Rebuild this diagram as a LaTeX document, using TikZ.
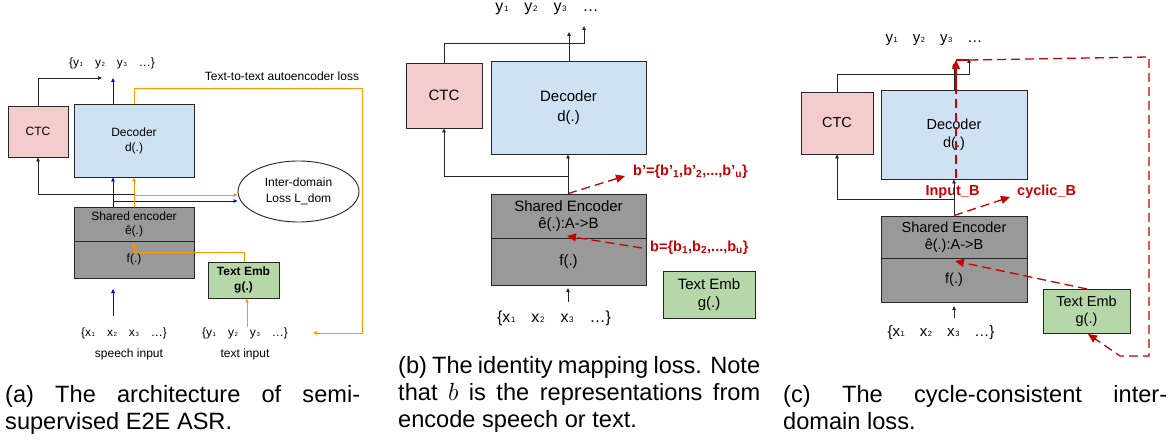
\documentclass[tikz,border=0pt]{standalone}
\usepackage{fontspec}
\usepackage{graphicx}
\setmainfont{Liberation Sans}
\usetikzlibrary{arrows.meta,shapes.geometric}
\definecolor{ctcfill}{HTML}{F4CCCC}
\definecolor{decfill}{HTML}{CFE2F3}
\definecolor{encfill}{HTML}{999999}
\definecolor{embfill}{HTML}{B6D7A8}
\definecolor{orng}{HTML}{FF9900}
\definecolor{blu}{HTML}{0000FF}
\definecolor{rd}{HTML}{CC0000}
\newcommand{\fs}[1]{\fontsize{#1}{#1}\selectfont}
\newcommand{\sbx}[1]{\textsubscript{#1}}
\newcommand{\tsb}[1]{\kern0.6pt\scalebox{0.5}{#1}}
\tikzset{
  box/.style={draw=black!85, line width=0.9pt, inner sep=0pt, align=center, rectangle},
  blk/.style={draw=black!85, line width=0.8pt, -{Triangle[length=4pt,width=3.5pt]}},
  bline/.style={draw=black!85, line width=0.8pt},
  bluarr/.style={draw=blu, line width=0.9pt, -{Triangle[length=4pt,width=3.5pt]}},
  orarr/.style={draw=orng, line width=0.9pt, -{Triangle[length=4pt,width=3.5pt]}},
  orline/.style={draw=orng, line width=0.9pt},
  rdash/.style={draw=rd, line width=1.3pt, dash pattern=on 9pt off 5pt, -{Triangle[length=9pt,width=8pt]}},
  rdline/.style={draw=rd, line width=1.3pt, dash pattern=on 9pt off 5pt},
  txt/.style={inner sep=0pt, align=center},
  captxt/.style={inner sep=0pt, anchor=base west, font=\fontsize{23.6}{27}\selectfont},
}
\begin{document}
\begin{tikzpicture}[x=1pt,y=-1pt]
\useasboundingbox[fill=white] (0,0) rectangle (1174,441);

% ================= panel (a) =================
\node[box, fill=ctcfill, minimum width=60, minimum height=51, font=\fs{12}] (actc) at (38,131.5) {CTC};
\node[box, fill=decfill, minimum width=120, minimum height=73, font=\fs{12}] (adec) at (134,140.5) {Decoder\\[3pt]d(.)};
\node[box, fill=encfill, minimum width=120, minimum height=34, font=\fs{12}] (aenc) at (134,224) {Shared encoder\\[2pt]ê(.)};
\node[box, fill=encfill, minimum width=120, minimum height=37, font=\fs{12}] (af) at (134,259.5) {f(.)};
\node[box, fill=embfill, minimum width=71, minimum height=36, font=\fs{12}\bfseries] (aemb) at (243.5,280) {Text Emb\\[3pt]g(.)};
\node[draw=black!85, line width=0.9pt, ellipse, minimum width=121, minimum height=61, inner sep=0pt, align=center, font=\fs{12}] (aell) at (298.5,191.5) {Inter-domain\\[4pt]Loss L\_dom};
\node[txt, font=\fs{12}] (ay) at (112,63) {\{y\tsb{1}\quad y\tsb{2}\quad y\tsb{3}\quad …\}};
\node[txt, font=\fs{12}] (aloss) at (282,76) {Text-to-text autoencoder loss};
\node[txt, font=\fs{12}] (ax) at (124,333) {\{x\tsb{1}\quad x\tsb{2}\quad x\tsb{3}\quad …\}};
\node[txt, font=\fs{12}] (asp) at (129,354) {speech input};
\node[txt, font=\fs{12}] (ayin) at (245,333) {\{y\tsb{1}\quad y\tsb{2}\quad y\tsb{3}\quad …\}};
\node[txt, font=\fs{12}] (atx) at (245,354) {text input};

\coordinate (actcout) at (102,78);
\coordinate (adecout) at (113,78);
\coordinate (aor1) at (134,88);
\coordinate (aor2) at (362,88);
\coordinate (aor3) at (362,333);
\coordinate (aor4) at (313,333);
\coordinate (ablk) at (134,194);
\coordinate (ablu) at (113,201);
\coordinate (aorg) at (134,195);
\coordinate (aemb1) at (244,252);
\coordinate (aembtip) at (134,243);
\coordinate (axs) at (113,316);
\coordinate (axe) at (113,289);

\draw[blk] (actc.north) |- (actcout);
\draw[bluarr] (adecout |- adec.north) -- (adecout);
\draw[orarr] (adec.north) -- (aor1) -- (aor2) -- (aor3) -- (aor4);
\draw[blk] (ablk) -| (actc.south);
\draw[bluarr] (ablu |- aenc.north) -- (ablu |- adec.south);
\draw[bluarr] (ablu) -- (ablu -| aell.west);
\draw[orarr] (aenc.north) -- (adec.south);
\draw[orarr] (aorg) -- (aorg -| aell.west);
\draw[orarr] (aemb1 |- aemb.north) -- (aemb1) -| (aembtip);
\draw[orarr] (ayin.north -| 247,0) -- (aemb.south -| 247,0);
\draw[bluarr] (axs) -- (axe);

% ================= panel (b) =================
\node[box, fill=ctcfill, minimum width=76, minimum height=65, font=\fs{15}] (bctc) at (444,95.5) {CTC};
\node[box, fill=decfill, minimum width=155, minimum height=93, font=\fs{15}] (bdec) at (568.5,107.5) {Decoder\\[5pt]d(.)};
\node[box, fill=encfill, minimum width=155, minimum height=44, font=\fs{15}] (benc) at (568.5,216) {Shared Encoder\\[2pt]ê(.):A->B};
\node[box, fill=encfill, minimum width=155, minimum height=47, font=\fs{15}] (bf) at (568.5,261.5) {f(.)};
\node[box, fill=embfill, minimum width=92, minimum height=47, font=\fs{15}] (bemb) at (709,294.5) {Text Emb\\[3pt]g(.)};
\node[txt, font=\fs{16}] (by) at (547,9) {y\tsb{1}\quad y\tsb{2}\quad y\tsb{3}\quad …};
\node[txt, font=\fs{16}] (bx) at (554,318) {\{x\tsb{1}\quad x\tsb{2}\quad x\tsb{3}\quad …\}};
\node[txt, anchor=west, text=rd, font=\fs{14.5}\bfseries] (bbp) at (633,172) {b’=\{b’\sbx{1},b’\sbx{2},...,b’\sbx{u}\}};
\node[txt, anchor=west, text=rd, font=\fs{14.5}\bfseries] (bb) at (650,248) {b=\{b\sbx{1},b\sbx{2},...,b\sbx{u}\}};

\coordinate (bctcout1) at (444,43);
\coordinate (bctcout) at (584,26);
\coordinate (bdecout) at (569,32);
\coordinate (bjoin) at (568,176);
\coordinate (bred1) at (625,176);
\coordinate (bred2s) at (642,248);
\coordinate (bred2e) at (567,236);
\coordinate (bxs) at (568,302);
\coordinate (bxe) at (568,288);

\draw[blk] (bctc.north) -- (bctcout1) -| (bctcout);
\draw[blk] (bdecout |- bdec.north) -- (bdecout);
\draw[blk] (bjoin |- benc.north) -- (bjoin |- bdec.south);
\draw[blk] (bjoin) -| (bctc.south);
\draw[rdash] (bjoin |- benc.north) -- (bred1);
\draw[rdash] (bred2s) -- (bred2e);
\draw[blk] (bxs) -- (bxe);

% ================= panel (c) =================
\node[box, fill=ctcfill, minimum width=72, minimum height=62, font=\fs{14.5}] (cctc) at (837,123) {CTC};
\node[box, fill=decfill, minimum width=146, minimum height=89, font=\fs{14.5}] (cdec) at (954,134.5) {Decoder\\[4pt]d(.)};
\node[box, fill=encfill, minimum width=146, minimum height=42, font=\fs{14.5}] (cenc) at (954,237) {Shared Encoder\\[2pt]ê(.):A->B};
\node[box, fill=encfill, minimum width=146, minimum height=44, font=\fs{14.5}] (cf) at (954,280) {f(.)};
\node[box, fill=embfill, minimum width=87, minimum height=44, font=\fs{14.5}] (cemb) at (1086.5,311) {Text Emb\\[3pt]g(.)};
\node[txt, font=\fs{15}] (cy) at (934,40) {y\tsb{1}\quad y\tsb{2}\quad y\tsb{3}\quad …};
\node[txt, font=\fs{15}] (cx) at (941,333) {\{x\tsb{1}\quad x\tsb{2}\quad x\tsb{3}\quad …\}};
\node[txt, text=rd, font=\fs{14.5}\bfseries] (cin) at (952.5,192) {Input\_B};
\node[txt, anchor=west, text=rd, font=\fs{14.5}\bfseries] (ccyc) at (1017,192) {cyclic\_B};

\coordinate (cctcout1) at (837,74);
\coordinate (cctcout) at (969,59);
\coordinate (cdecout) at (954,63);
\coordinate (cjoin) at (954,199);
\coordinate (cred1) at (1010,197);
\coordinate (cvs) at (956,178);
\coordinate (cvm) at (956,90);
\coordinate (cve) at (956,60);
\coordinate (cl1) at (969,60);
\coordinate (cl2) at (1149,57);
\coordinate (cl3) at (1149,356);
\coordinate (cl4) at (1120,356);
\coordinate (cembin) at (1088,334);
\coordinate (cembout) at (1087,289);
\coordinate (cenctip) at (955,261);
\coordinate (cxs) at (954,318);
\coordinate (cxe) at (954,306);

\draw[blk] (cctc.north) -- (cctcout1) -| (cctcout);
\draw[blk] (cdecout |- cdec.north) -- (cdecout);
\draw[blk] (cjoin |- cenc.north) -- (cjoin |- cdec.south);
\draw[blk] (cjoin) -| (cctc.south);
\draw[rdash] (cjoin |- cenc.north) -- (cred1);
\draw[rdline] (cvs) -- (cvm);
\draw[draw=rd, line width=1.3pt, -{Triangle[length=9pt,width=8pt]}] (cvm) -- (cve);
\draw[draw=rd, line width=1.3pt] (cve) -- (cl1);
\draw[rdash] (cl1) -- (cl2) -- (cl3) -- (cl4) -- (cembin);
\draw[rdash] (cembout) -- (cenctip);
\draw[blk] (cxs) -- (cxe);

% ================= captions =================
\node[captxt] (capa1) at (5,402) {\makebox[355pt][s]{(a) The architecture of semi-}};
\node[captxt] (capa2) at (5,429) {supervised E2E ASR.};
\node[captxt] (capb1) at (398,373) {\makebox[362pt][s]{(b) The identity mapping loss. Note}};
\node[captxt] (capb2) at (398,400) {\makebox[362pt][s]{that $b$ is the representations from}};
\node[captxt] (capb3) at (398,427) {encode speech or text.};
\node[captxt] (capc1) at (783,402) {\makebox[384pt][s]{(c) The cycle-consistent inter-}};
\node[captxt] (capc2) at (783,429) {domain loss.};
\end{tikzpicture}
\end{document}
